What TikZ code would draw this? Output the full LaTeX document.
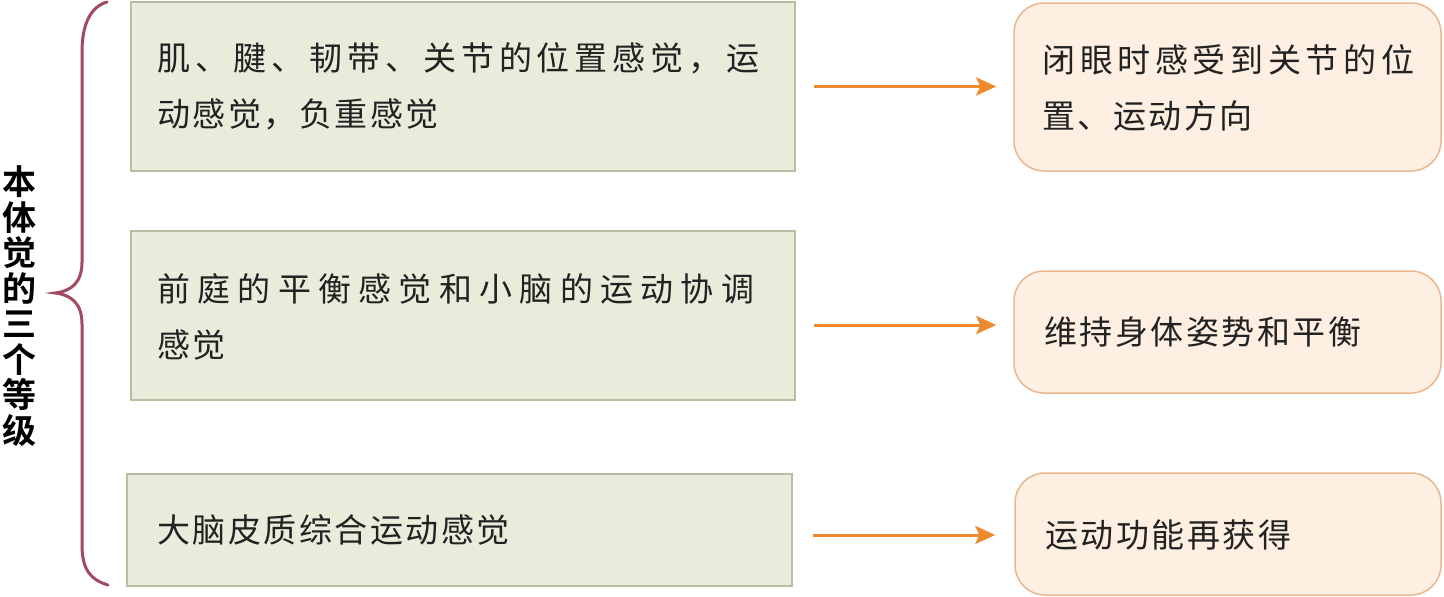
\documentclass[tikz,border=0pt]{standalone}
\usepackage{fontspec}
\usetikzlibrary{arrows.meta,calc}
\newfontfamily\cjk[LetterSpace=7.5]{Noto Sans CJK SC}
\newfontfamily\cjkbold[BoldFont={* Bold}]{Noto Sans CJK SC}
\newcommand{\spread}[2]{{\addfontfeature{LetterSpace=#1}#2}}
\definecolor{gfill}{HTML}{E8EDDB}
\definecolor{gdraw}{HTML}{B7BFA0}
\definecolor{ofill}{HTML}{FDEFE2}
\definecolor{odraw}{HTML}{E9B78F}
\definecolor{arrcol}{HTML}{EE8A2E}
\definecolor{bracecol}{HTML}{A34A5E}
\definecolor{txt}{HTML}{222222}
\begin{document}
\begin{tikzpicture}[x=1pt,y=-1pt,
  gbox/.style={draw=gdraw,fill=gfill,line width=1.5pt,inner sep=0pt,rectangle},
  obox/.style={draw=odraw,fill=ofill,line width=1.5pt,inner sep=0pt,rectangle,rounded corners=30pt},
  btxt/.style={anchor=west,align=left,inner sep=0pt,text=txt,font={\cjk\fontsize{33}{56}\selectfont}},
  arr/.style={draw=arrcol,line width=3pt,-{Stealth[length=20pt,width=18pt,inset=4pt]}},
  brace/.style={draw=bracecol,line width=3pt,line cap=round}]
\useasboundingbox[fill=white] (0,0) rectangle (1444,597);
% green boxes
\node[gbox,minimum width=664pt,minimum height=169pt] (g1) at (463,86.5) {};
\node[gbox,minimum width=664pt,minimum height=169pt] (g2) at (463,315.5) {};
\node[gbox,minimum width=665pt,minimum height=112pt] (g3) at (459.5,530) {};
% orange boxes
\node[obox,minimum width=427pt,minimum height=168pt] (o1) at (1227.5,87) {};
\node[obox,minimum width=427pt,minimum height=122pt] (o2) at (1227.5,332) {};
\node[obox,minimum width=426pt,minimum height=122pt] (o3) at (1228,534) {};
% texts
\node[btxt] (t1) at ($(g1.west)+(27,0)$) {\spread{15}{肌、腱、韧带、关节的位置感觉，运}\\动感觉，负重感觉};
\node[btxt] (t2) at ($(g2.west)+(27,1.5)$) {\spread{22}{前庭的平衡感觉和小脑的运动协调}\\感觉};
\node[btxt] (t3) at ($(g3.west)+(31,0)$) {大脑皮质综合运动感觉};
\node[btxt] (u1) at ($(o1.west)+(29,1)$) {\spread{14}{闭眼时感受到关节的位}\\置、运动方向};
\node[btxt] (u2) at ($(o2.west)+(31,0)$) {维持身体姿势和平衡};
\node[btxt] (u3) at ($(o3.west)+(31,1)$) {运动功能再获得};
% arrows
\draw[arr] ([xshift=18pt]g1.east) -- ([xshift=-17pt]g1.east -| o1.west);
\draw[arr] ($(g2.east)+(18,9.5)$) -- ($(g2.east -| o2.west)+(-17,9.5)$);
\draw[arr] ($(g3.east)+(20,5)$) -- ($(g3.east -| o3.west)+(-19,5)$);
% brace
\draw[brace] (107,2) .. controls (90,7) and (82,25) .. (82,52) -- (82,262)
  .. controls (82,282) and (72,291) .. (55,293)
  .. controls (72,295) and (82,304) .. (82,324) -- (82,545)
  .. controls (82,570) and (91,580) .. (108,585);
% left label
\node[inner sep=0pt,align=center,text=black,font={\cjkbold\bfseries\fontsize{34}{35.5}\selectfont}] (lab) at (19,306) {本\\体\\觉\\的\\三\\个\\等\\级};
\end{tikzpicture}
\end{document}
